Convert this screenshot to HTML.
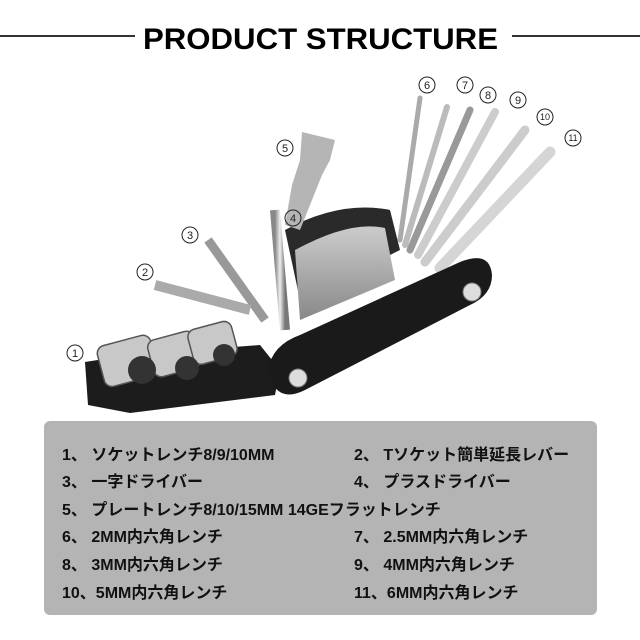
<!DOCTYPE html>
<html><head><meta charset="utf-8">
<style>
body{margin:0;width:640px;height:640px;background:#fff;overflow:hidden;position:relative;font-family:"Liberation Sans","Noto Sans CJK JP",sans-serif}
svg{position:absolute;left:0;top:0}
.box{position:absolute;left:44px;top:421px;width:553px;height:194px;background:#b4b4b4;border-radius:6px}
.t{position:absolute;font-weight:bold;font-size:16px;color:#111;white-space:nowrap}
</style></head><body>
<svg width="640" height="640" viewBox="0 0 640 640">
<defs>
<linearGradient id="m" x1="0" y1="0" x2="1" y2="0"><stop offset="0" stop-color="#888"/><stop offset=".5" stop-color="#eee"/><stop offset="1" stop-color="#777"/></linearGradient>
<linearGradient id="p" x1="0" y1="0" x2="0" y2="1"><stop offset="0" stop-color="#ccc"/><stop offset="1" stop-color="#888"/></linearGradient>
</defs>
<line x1="0" y1="36" x2="135" y2="36" stroke="#333" stroke-width="2"/>
<line x1="512" y1="36" x2="640" y2="36" stroke="#333" stroke-width="2"/>
<text x="143" y="49" font-size="30" font-weight="bold" textLength="355" lengthAdjust="spacingAndGlyphs" font-family="Liberation Sans, sans-serif">PRODUCT  STRUCTURE</text>
<path d="M285 230 Q340 200 390 210 L400 250 L300 300 Z" fill="#2a2a2a"/>
<path d="M295 250 Q350 220 385 228 L395 280 L300 320 Z" fill="url(#p)"/>
<g stroke-linecap="round">
<line x1="400" y1="240" x2="420" y2="98" stroke="#aaa" stroke-width="5"/>
<line x1="405" y1="245" x2="447" y2="107" stroke="#bbb" stroke-width="6"/>
<line x1="410" y1="250" x2="470" y2="110" stroke="#999" stroke-width="7"/>
<line x1="418" y1="255" x2="495" y2="112" stroke="#ccc" stroke-width="8"/>
<line x1="425" y1="262" x2="525" y2="130" stroke="#ccc" stroke-width="9"/>
<line x1="440" y1="268" x2="550" y2="152" stroke="#d5d5d5" stroke-width="11"/>
</g>
<path d="M302 132 L335 140 L330 160 L322 175 L300 230 L285 225 L292 185 L300 160 Z" fill="#b5b5b5"/>
<line x1="275" y1="210" x2="285" y2="330" stroke="url(#m)" stroke-width="10"/>
<line x1="208" y1="240" x2="265" y2="320" stroke="#999" stroke-width="9"/>
<line x1="155" y1="285" x2="250" y2="310" stroke="#aaa" stroke-width="10"/>
<path d="M85 362 L130 355 L260 345 L280 370 L275 395 L130 413 L88 405 Z" fill="#1c1c1c"/>
<g fill="#c8c8c8" stroke="#555" stroke-width="1.5">
<rect x="100" y="340" width="55" height="42" rx="8" transform="rotate(-15 127 361)"/>
<rect x="150" y="335" width="48" height="38" rx="8" transform="rotate(-15 174 354)"/>
<rect x="190" y="325" width="45" height="36" rx="8" transform="rotate(-15 212 343)"/>
</g>
<circle cx="142" cy="370" r="14" fill="#333"/><circle cx="187" cy="368" r="12" fill="#333"/><circle cx="224" cy="355" r="11" fill="#333"/>
<path d="M268 370 Q272 345 300 335 L460 262 Q490 250 492 275 Q492 295 470 305 L305 390 Q275 405 268 370 Z" fill="#1a1a1a"/>
<circle cx="298" cy="378" r="9" fill="#ddd" stroke="#777"/><circle cx="472" cy="292" r="9" fill="#ddd" stroke="#777"/>
<g font-size="12" fill="#222" stroke="#222" text-anchor="middle">
<g fill="none" stroke-width="1">
<circle cx="75" cy="353" r="8"/><circle cx="145" cy="272" r="8"/><circle cx="190" cy="235" r="8"/><circle cx="293" cy="218" r="8"/><circle cx="285" cy="148" r="8"/><circle cx="427" cy="85" r="8"/><circle cx="465" cy="85" r="8"/><circle cx="488" cy="95" r="8"/><circle cx="518" cy="100" r="8"/><circle cx="545" cy="117" r="8"/><circle cx="573" cy="138" r="8"/>
</g>
<g stroke="none" font-size="11"><text x="75" y="357">1</text><text x="145" y="276">2</text><text x="190" y="239">3</text><text x="293" y="222">4</text><text x="285" y="152">5</text><text x="427" y="89">6</text><text x="465" y="89">7</text><text x="488" y="99">8</text><text x="518" y="104">9</text><text x="545" y="120" font-size="9">10</text><text x="573" y="141" font-size="9">11</text></g>
</g>
</svg>
<div class="box"></div>
<div class="t" style="left:62px;top:441px">1、 ソケットレンチ8/9/10MM</div>
<div class="t" style="left:354px;top:441px">2、 Tソケット簡単延長レバー</div>
<div class="t" style="left:62px;top:468px">3、 一字ドライバー</div>
<div class="t" style="left:354px;top:468px">4、 プラスドライバー</div>
<div class="t" style="left:62px;top:496px">5、 プレートレンチ8/10/15MM 14GEフラットレンチ</div>
<div class="t" style="left:62px;top:523px">6、 2MM内六角レンチ</div>
<div class="t" style="left:354px;top:523px">7、 2.5MM内六角レンチ</div>
<div class="t" style="left:62px;top:551px">8、 3MM内六角レンチ</div>
<div class="t" style="left:354px;top:551px">9、 4MM内六角レンチ</div>
<div class="t" style="left:62px;top:579px">10、5MM内六角レンチ</div>
<div class="t" style="left:354px;top:579px">11、6MM内六角レンチ</div>
</body></html>
